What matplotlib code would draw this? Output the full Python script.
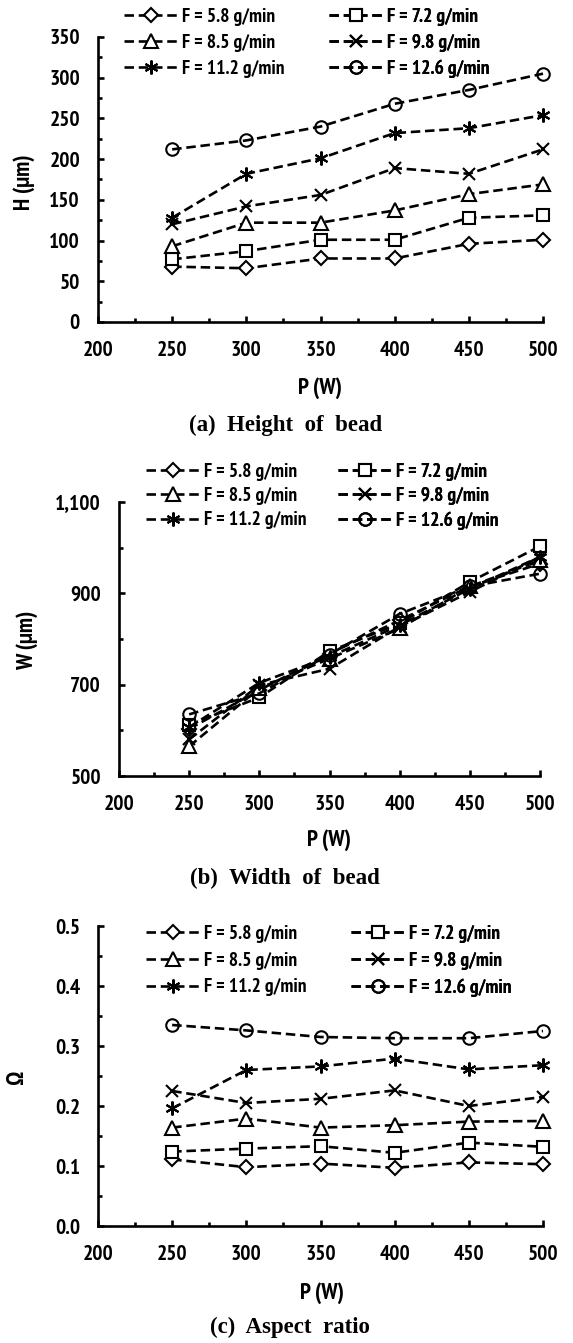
"""Bead height, width and aspect ratio versus laser power for six powder feed rates."""
import os

import matplotlib
matplotlib.use("Agg")
import matplotlib.pyplot as plt
from matplotlib import font_manager
from matplotlib.ticker import MultipleLocator, FuncFormatter

# ---- data ----
power = [250, 300, 350, 400, 450, 500]
feed_labels = ["F = 5.8 g/min", "F = 7.2 g/min", "F = 8.5 g/min",
               "F = 9.8 g/min", "F = 11.2 g/min", "F = 12.6 g/min"]

height_58 = [68, 66, 78, 78, 96, 101]
height_72 = [77, 87, 101, 101, 128, 131]
height_85 = [93, 122, 122, 137, 157, 169]
height_98 = [120, 142, 156, 189, 182, 212]
height_112 = [128, 182, 201, 232, 238, 254]
height_126 = [212, 223, 240, 268, 285, 305]

width_58 = [603, 688, 768, 841, 915, 965]
width_72 = [612, 672, 773, 834, 925, 1003]
width_85 = [565, 692, 757, 823, 915, 972]
width_98 = [580, 699, 735, 827, 903, 980]
width_112 = [607, 704, 761, 830, 910, 980]
width_126 = [635, 681, 766, 855, 915, 943]

ratio_58 = [0.111, 0.098, 0.104, 0.097, 0.106, 0.103]
ratio_72 = [0.124, 0.129, 0.133, 0.122, 0.139, 0.132]
ratio_85 = [0.164, 0.179, 0.164, 0.168, 0.174, 0.175]
ratio_98 = [0.225, 0.205, 0.212, 0.226, 0.200, 0.215]
ratio_112 = [0.196, 0.260, 0.266, 0.279, 0.261, 0.268]
ratio_126 = [0.335, 0.326, 0.315, 0.313, 0.313, 0.325]

markers = ["D", "s", "^", "x", (6, 2, 0), "o"]
marker_sizes = [7.5, 9, 9.5, 8, 10, 9]


def pick_narrow_bold():
    """Find an installed narrow/condensed bold sans, else fall back to Liberation Sans."""
    entries = font_manager.fontManager.ttflist
    for key in ("narrow", "condensed"):
        for f in entries:
            base = os.path.basename(f.fname).lower()
            if key in base and "bold" in base and not any(
                    s in base for s in ("semi", "extra", "italic", "oblique", "light")):
                return f
    return None


_narrow = pick_narrow_bold()
if _narrow is not None:
    SANS = dict(family=_narrow.name, stretch=_narrow.stretch, weight=_narrow.weight)
else:
    SANS = dict(family="Liberation Sans", stretch="normal", weight="bold")
SERIF = "Liberation Serif"

plt.rcParams.update({
    "font.family": SANS["family"],
    "font.stretch": SANS["stretch"],
    "font.weight": SANS["weight"],
    "font.size": 15.5,
    "axes.linewidth": 1.9,
    "xtick.direction": "in",
    "ytick.direction": "in",
    "xtick.major.size": 4.5,
    "ytick.major.size": 4.5,
    "xtick.minor.size": 3,
    "ytick.minor.size": 3,
    "xtick.major.width": 1.9,
    "ytick.major.width": 1.9,
    "xtick.minor.width": 1.9,
    "ytick.minor.width": 1.9,
    "xtick.major.pad": 14,
    "ytick.major.pad": 13,
})

W, H = 573, 1343
fig = plt.figure(figsize=(W / 100, H / 100), dpi=100)


def px_axes(left, top, right, bottom):
    return fig.add_axes([left / W, 1 - bottom / H, (right - left) / W, (bottom - top) / H])


def draw_panel(ax, series, ylim, ymajor, yoffset, yminor, fmt, col_x, top_y, row_gap):
    lines = []
    for vals, lab, mk, ms in zip(series, feed_labels, markers, marker_sizes):
        face = "none" if mk == "o" else "white"
        ln, = ax.plot(power, vals, color="black", lw=1.9, dashes=(3.6, 1.8),
                      marker=mk, ms=ms, mfc=face, mec="black", mew=1.5,
                      label=lab, clip_on=False)
        lines.append(ln)
    ax.set_xlim(200, 500)
    ax.set_ylim(*ylim)
    ax.xaxis.set_major_locator(MultipleLocator(50))
    ax.xaxis.set_minor_locator(MultipleLocator(25))
    ax.yaxis.set_major_locator(MultipleLocator(ymajor, offset=yoffset))
    ax.yaxis.set_minor_locator(MultipleLocator(yminor))
    ax.yaxis.set_major_formatter(FuncFormatter(fmt))
    for side in ("top", "right"):
        ax.spines[side].set_visible(False)
    # two legend columns, each filled top to bottom: odd feeds left, even right
    prop = dict(family=SANS["family"], stretch=SANS["stretch"], weight=SANS["weight"], size=14)
    for col, x in enumerate(col_x):
        idx = [col, col + 2, col + 4]
        leg = ax.legend([lines[i] for i in idx], [feed_labels[i] for i in idx],
                        loc="upper left", bbox_to_anchor=(x / W, 1 - top_y / H),
                        bbox_transform=fig.transFigure, frameon=False, numpoints=1,
                        handlelength=2.8, handletextpad=0.2, labelspacing=row_gap,
                        borderpad=0, borderaxespad=0, prop=prop)
        ax.add_artist(leg)


ax_a = px_axes(98, 37, 543, 322)
draw_panel(ax_a, [height_58, height_72, height_85, height_98, height_112, height_126],
           (0, 350), 50, 0, 25, lambda v, p: f"{v:.0f}", (124, 329), 8, 0.40)

ax_b = px_axes(119, 502, 540, 776)
draw_panel(ax_b, [width_58, width_72, width_85, width_98, width_112, width_126],
           (500, 1100), 200, 100, 100, lambda v, p: f"{v:,.0f}", (146, 338), 463, 0.32)

ax_c = px_axes(98, 926, 543, 1226)
draw_panel(ax_c, [ratio_58, ratio_72, ratio_85, ratio_98, ratio_112, ratio_126],
           (0, 0.5), 0.1, 0, 0.05, lambda v, p: f"{v:.1f}", (146, 351), 925, 0.45)

label_font = dict(family=SANS["family"], stretch=SANS["stretch"], weight=SANS["weight"], size=16.5)
cap_font = dict(family=SERIF, weight="bold", size=16.5)

for ylab, (x, y) in zip(["H (μm)", "W (μm)", "Ω"], [(24, 182), (27, 640), (17, 1077)]):
    fig.text(x / W, 1 - y / H, ylab, rotation=90, ha="center", va="center", **label_font)

for (x, y) in [(320, 388), (329, 840), (322, 1293)]:
    fig.text(x / W, 1 - y / H, "P (W)", ha="center", va="center", **label_font)

captions = ["(a)  Height  of  bead", "(b)  Width  of  bead", "(c)  Aspect  ratio"]
for cap, (x, y) in zip(captions, [(286, 425), (285, 878), (290, 1327)]):
    fig.text(x / W, 1 - y / H, cap, ha="center", va="center", **cap_font)

fig.savefig("out.png", dpi=100, facecolor="white")
